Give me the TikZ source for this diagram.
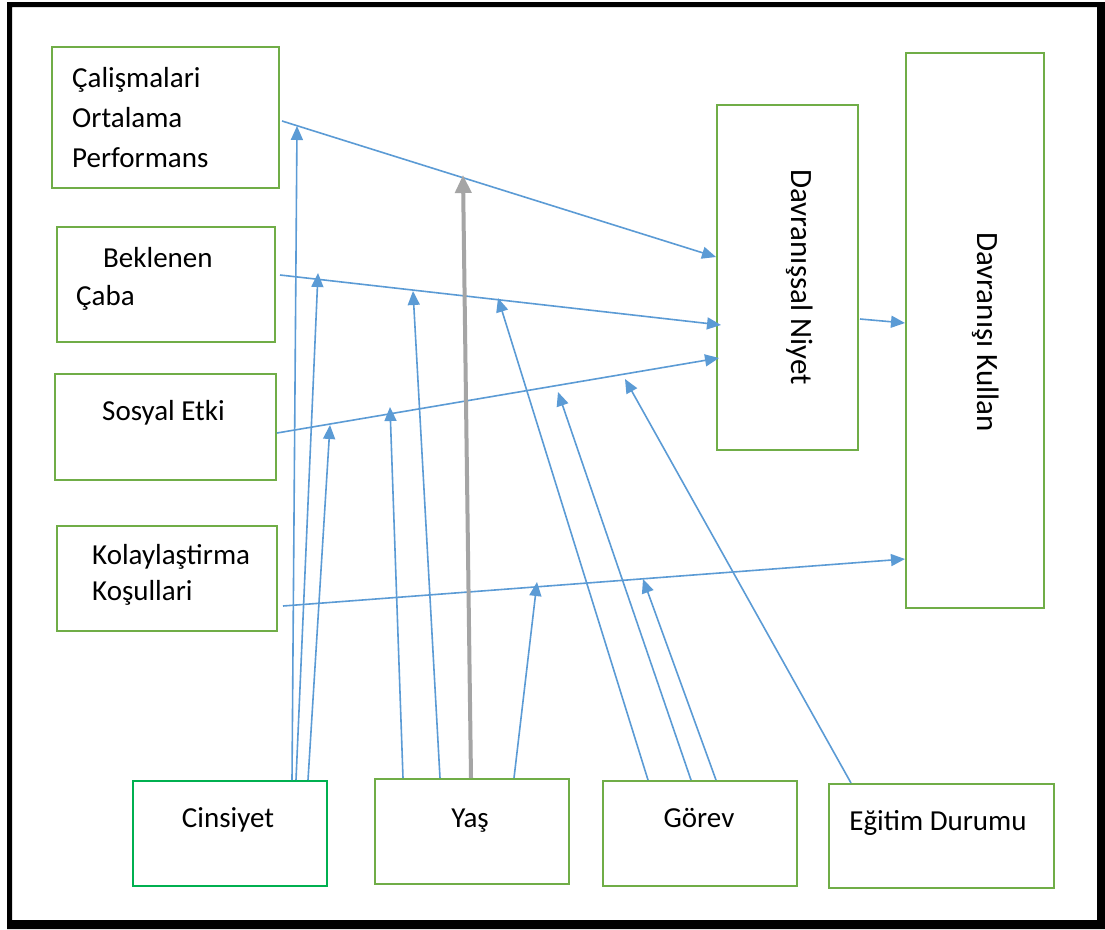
\documentclass[tikz,border=0pt]{standalone}
\usepackage{fontspec}
\setmainfont{Carlito}
\usetikzlibrary{arrows.meta,fit,calc}
\definecolor{boxgreen}{HTML}{70AD47}
\definecolor{boxgreenB}{HTML}{00B050}
\definecolor{linkblue}{HTML}{5B9BD5}
\definecolor{linkgray}{HTML}{A5A5A5}

\begin{document}
\begin{tikzpicture}[x=1pt,y=-1pt,
  box/.style={draw=boxgreen, line width=2pt, inner sep=0pt},
  lbl/.style={font=\fontsize{29}{40}\selectfont, inner sep=0pt, anchor=base west},
  clbl/.style={font=\fontsize{29}{40}\selectfont, inner sep=0pt, anchor=base},
  rlbl/.style={font=\fontsize{31}{40}\selectfont, inner sep=0pt, anchor=base, rotate=-90},
  link/.style={draw=linkblue, line width=1.6pt, -{Triangle[length=14pt,width=12pt]}},
  biglink/.style={draw=linkgray, line width=4pt, -{Triangle[length=18pt,width=16pt]}}]

\useasboundingbox (0,0) rectangle (1105,929);
\fill[white] (0,0) rectangle (1105,929);
% outer frame
\fill[black, even odd rule] (7,2) rectangle (1105,929) (12,7) rectangle (1097,920);

% predictor boxes
\node[box, fit={(52,47) (279,188)}] (c1) {};
\node[box, fit={(57,227) (275,342)}] (c2) {};
\node[box, fit={(55,374) (276,480)}] (c3) {};
\node[box, fit={(57,526) (277,631)}] (c4) {};
% intention and use
\node[box, fit={(717,105) (858,450)}] (dn) {};
\node[box, fit={(906,53) (1044,608)}] (dk) {};
% moderators
\node[box, draw=boxgreenB, fit={(133,781) (327,886)}] (cins) {};
\node[box, fit={(375,779) (569,884)}] (yas) {};
\node[box, fit={(603,781) (797,886)}] (gorev) {};
\node[box, fit={(829,784) (1054,888)}] (egitim) {};

% labels
\node[lbl] (t1a) at (72,87) {Çalişmalari};
\node[lbl] (t1b) at (72,127) {Ortalama};
\node[lbl] (t1c) at (72,167) {Performans};
\node[lbl] (t2a) at (103,267) {Beklenen};
\node[lbl] (t2b) at (76,305) {Çaba};
\node[lbl] (t3) at (102,420) {Sosyal Etki};
\node[lbl] (t4a) at (92,564) {Kolaylaştirma};
\node[lbl] (t4b) at (92,600) {Koşullari};
\node[rlbl] (tdn) at (791,277) {Davranışsal Niyet};
\node[rlbl] (tdk) at (977,332) {Davranışı Kullan};
\node[clbl] (tc) at (228,827) {Cinsiyet};
\node[clbl] (ty) at (470,827) {Yaş};
\node[clbl] (tg) at (699,827) {Görev};
\node[clbl] (te) at (938,830) {Eğitim Durumu};

% main paths
\draw[link] ($(c1.north east)+(2,75)$) -- ($(dn.north west)+(0,153)$);
\draw[link] ($(c2.north east)+(4,49)$) -- ($(dn.north west)+(5,221)$);
\draw[link] ($(c3.north east)+(0,60)$) -- ($(dn.north west)+(3,254)$);
\draw[link] ($(dn.north east)+(1,215)$) -- ($(dk.north west)+(0,271)$);
\draw[link] ($(c4.north east)+(5,81)$) -- ($(dk.north west)+(0,507)$);

% points where moderator arrows meet the paths
\coordinate (mf1) at (297,126);
\coordinate (mf2) at (318,273);
\coordinate (mf3) at (330,425);
\coordinate (mg1) at (390,407);
\coordinate (mg2) at (413,291);
\coordinate (mg3) at (463,175);
\coordinate (mg4) at (537,582);
\coordinate (mh1) at (498,298);
\coordinate (mh2) at (558,392);
\coordinate (mh3) at (643,579);
\coordinate (mi1) at (625,379);

% moderator arrows
\draw[link] ($(cins.north west)+(160,0)$) -- (mf1);
\draw[link] ($(cins.north west)+(164,0)$) -- (mf2);
\draw[link] ($(cins.north west)+(176,0)$) -- (mf3);
\draw[link] ($(yas.north west)+(29,0)$) -- (mg1);
\draw[link] ($(yas.north west)+(66,0)$) -- (mg2);
\draw[biglink] ($(yas.north west)+(97,0)$) -- (mg3);
\draw[link] ($(yas.north west)+(140,0)$) -- (mg4);
\draw[link] ($(gorev.north west)+(46,0)$) -- (mh1);
\draw[link] ($(gorev.north west)+(89,0)$) -- (mh2);
\draw[link] ($(gorev.north west)+(114,0)$) -- (mh3);
\draw[link] ($(egitim.north west)+(23,0)$) -- (mi1);
\end{tikzpicture}
\end{document}
